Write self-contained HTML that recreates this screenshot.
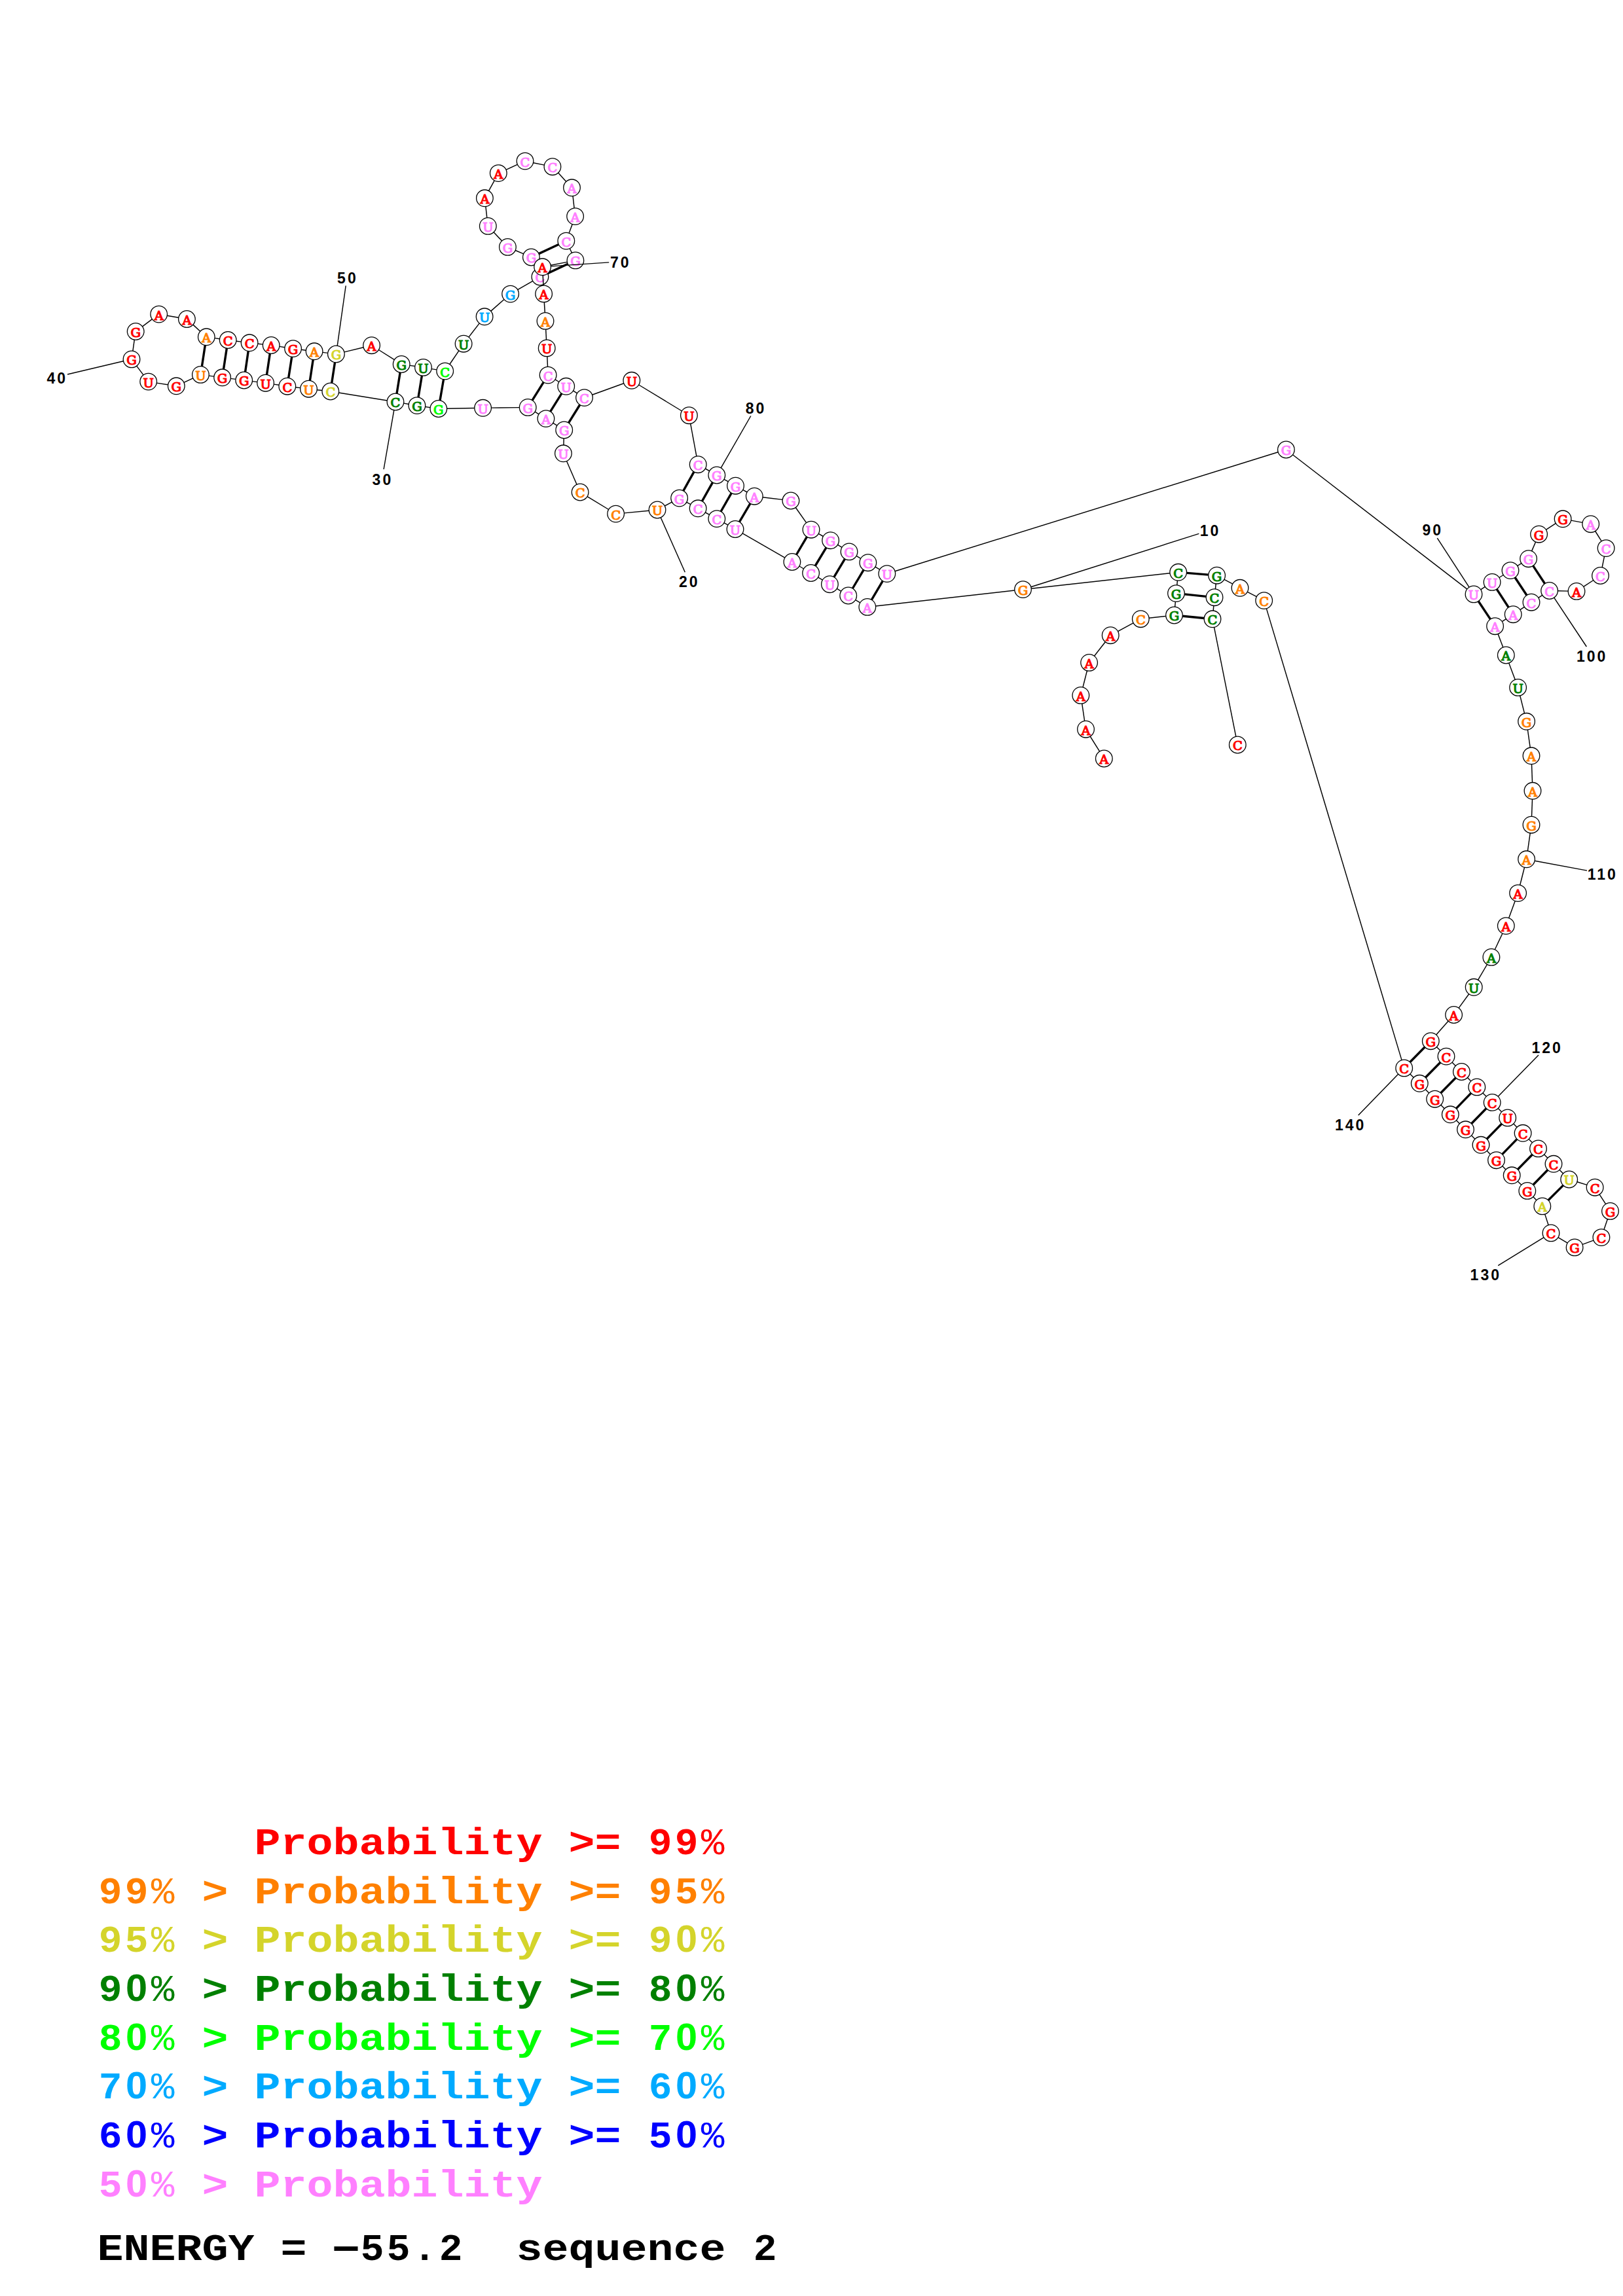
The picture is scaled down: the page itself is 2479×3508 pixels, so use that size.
<!DOCTYPE html>
<html><head><meta charset="utf-8"><title>RNA structure</title>
<style>
html,body{margin:0;padding:0;background:#fff}
svg{display:block}
svg line{stroke:#000;stroke-linecap:butt}
svg circle{fill:#fff;stroke:#000;stroke-width:1.3}
svg text{font-family:"Liberation Mono","DejaVu Sans Mono",monospace;font-weight:bold;white-space:pre}
.n{font-family:"DejaVu Serif","Liberation Serif",serif;font-weight:normal;stroke-width:1.2;font-size:19.4px;text-anchor:middle}
.l{font-family:"Liberation Sans","DejaVu Sans",sans-serif;letter-spacing:3.0px;font-size:23.0px;text-anchor:middle;fill:#000}
.g{font-size:57.2px}
.z{font-family:"Liberation Sans","DejaVu Sans",sans-serif}
.p{font-weight:normal}
</style></head><body>
<svg width="2479" height="3508" viewBox="0 0 2479 3508">
<rect width="2479" height="3508" fill="#fff"/>
<circle cx="1686.3" cy="1159.0" r="12.8"/>
<text class="n" fill="#ff0000" stroke="#ff0000" transform="translate(1686.3,1167.4) scale(1.0,1)">A</text>
<line x1="1679.6" y1="1148.1" x2="1665.2" y2="1125.1" stroke-width="1.45"/>
<circle cx="1658.5" cy="1114.2" r="12.8"/>
<text class="n" fill="#ff0000" stroke="#ff0000" transform="translate(1658.5,1122.6) scale(1.0,1)">A</text>
<line x1="1656.6" y1="1101.5" x2="1652.7" y2="1075.1" stroke-width="1.45"/>
<circle cx="1650.8" cy="1062.4" r="12.8"/>
<text class="n" fill="#ff0000" stroke="#ff0000" transform="translate(1650.8,1070.8) scale(1.0,1)">A</text>
<line x1="1654.0" y1="1050.0" x2="1660.4" y2="1024.8" stroke-width="1.45"/>
<circle cx="1663.6" cy="1012.4" r="12.8"/>
<text class="n" fill="#ff0000" stroke="#ff0000" transform="translate(1663.6,1020.8) scale(1.0,1)">A</text>
<line x1="1671.5" y1="1002.3" x2="1688.3" y2="980.8" stroke-width="1.45"/>
<circle cx="1696.2" cy="970.7" r="12.8"/>
<text class="n" fill="#ff0000" stroke="#ff0000" transform="translate(1696.2,979.1) scale(1.0,1)">A</text>
<line x1="1707.5" y1="964.6" x2="1731.0" y2="951.8" stroke-width="1.45"/>
<circle cx="1742.3" cy="945.7" r="12.8"/>
<text class="n" fill="#ff8000" stroke="#ff8000" transform="translate(1742.3,954.1) scale(1.0,1)">C</text>
<line x1="1755.0" y1="944.3" x2="1780.8" y2="941.4" stroke-width="1.45"/>
<circle cx="1793.5" cy="940.0" r="12.8"/>
<text class="n" fill="#008000" stroke="#008000" transform="translate(1793.5,948.4) scale(1.0,1)">G</text>
<line x1="1794.6" y1="927.3" x2="1795.4" y2="919.3" stroke-width="1.45"/>
<circle cx="1796.5" cy="906.6" r="12.8"/>
<text class="n" fill="#008000" stroke="#008000" transform="translate(1796.5,915.0) scale(1.0,1)">G</text>
<line x1="1797.8" y1="893.9" x2="1798.4" y2="887.0" stroke-width="1.45"/>
<circle cx="1799.7" cy="874.3" r="12.8"/>
<text class="n" fill="#008000" stroke="#008000" transform="translate(1799.7,882.7) scale(1.0,1)">C</text>
<line x1="1787.0" y1="875.7" x2="1575.2" y2="899.2" stroke-width="1.45"/>
<circle cx="1562.5" cy="900.6" r="12.8"/>
<text class="n" fill="#ff8000" stroke="#ff8000" transform="translate(1562.5,909.0) scale(1.0,1)">G</text>
<line x1="1549.8" y1="902.0" x2="1337.5" y2="926.0" stroke-width="1.45"/>
<circle cx="1324.8" cy="927.4" r="12.8"/>
<text class="n" fill="#ff80ff" stroke="#ff80ff" transform="translate(1324.8,935.8) scale(1.0,1)">A</text>
<line x1="1313.8" y1="920.8" x2="1306.7" y2="916.6" stroke-width="1.45"/>
<circle cx="1295.7" cy="910.0" r="12.8"/>
<text class="n" fill="#ff80ff" stroke="#ff80ff" transform="translate(1295.7,918.4) scale(1.0,1)">C</text>
<line x1="1284.8" y1="903.3" x2="1278.3" y2="899.4" stroke-width="1.45"/>
<circle cx="1267.4" cy="892.7" r="12.8"/>
<text class="n" fill="#ff80ff" stroke="#ff80ff" transform="translate(1267.4,901.1) scale(1.0,1)">U</text>
<line x1="1256.4" y1="886.1" x2="1249.6" y2="882.1" stroke-width="1.45"/>
<circle cx="1238.6" cy="875.5" r="12.8"/>
<text class="n" fill="#ff80ff" stroke="#ff80ff" transform="translate(1238.6,883.9) scale(1.0,1)">C</text>
<line x1="1227.6" y1="869.0" x2="1220.9" y2="865.0" stroke-width="1.45"/>
<circle cx="1209.9" cy="858.5" r="12.8"/>
<text class="n" fill="#ff80ff" stroke="#ff80ff" transform="translate(1209.9,866.9) scale(1.0,1)">A</text>
<line x1="1198.8" y1="852.1" x2="1134.1" y2="814.9" stroke-width="1.45"/>
<circle cx="1123.0" cy="808.5" r="12.8"/>
<text class="n" fill="#ff80ff" stroke="#ff80ff" transform="translate(1123.0,816.9) scale(1.0,1)">U</text>
<line x1="1111.9" y1="802.2" x2="1105.9" y2="798.9" stroke-width="1.45"/>
<circle cx="1094.8" cy="792.6" r="12.8"/>
<text class="n" fill="#ff80ff" stroke="#ff80ff" transform="translate(1094.8,801.0) scale(1.0,1)">C</text>
<line x1="1083.6" y1="786.4" x2="1077.3" y2="783.0" stroke-width="1.45"/>
<circle cx="1066.1" cy="776.8" r="12.8"/>
<text class="n" fill="#ff80ff" stroke="#ff80ff" transform="translate(1066.1,785.2) scale(1.0,1)">C</text>
<line x1="1054.9" y1="770.6" x2="1048.8" y2="767.3" stroke-width="1.45"/>
<circle cx="1037.6" cy="761.1" r="12.8"/>
<text class="n" fill="#ff80ff" stroke="#ff80ff" transform="translate(1037.6,769.5) scale(1.0,1)">G</text>
<line x1="1026.3" y1="767.1" x2="1015.3" y2="773.0" stroke-width="1.45"/>
<circle cx="1004.0" cy="779.0" r="12.8"/>
<text class="n" fill="#ff8000" stroke="#ff8000" transform="translate(1004.0,787.4) scale(1.0,1)">U</text>
<line x1="991.3" y1="780.2" x2="953.3" y2="783.9" stroke-width="1.45"/>
<circle cx="940.6" cy="785.1" r="12.8"/>
<text class="n" fill="#ff8000" stroke="#ff8000" transform="translate(940.6,793.5) scale(1.0,1)">C</text>
<line x1="929.7" y1="778.5" x2="897.0" y2="758.6" stroke-width="1.45"/>
<circle cx="886.1" cy="752.0" r="12.8"/>
<text class="n" fill="#ff8000" stroke="#ff8000" transform="translate(886.1,760.4) scale(1.0,1)">C</text>
<line x1="881.0" y1="740.3" x2="865.5" y2="704.5" stroke-width="1.45"/>
<circle cx="860.4" cy="692.8" r="12.8"/>
<text class="n" fill="#ff80ff" stroke="#ff80ff" transform="translate(860.4,701.2) scale(1.0,1)">U</text>
<line x1="860.9" y1="680.0" x2="861.2" y2="669.8" stroke-width="1.45"/>
<circle cx="861.7" cy="657.0" r="12.8"/>
<text class="n" fill="#ff80ff" stroke="#ff80ff" transform="translate(861.7,665.4) scale(1.0,1)">G</text>
<line x1="850.9" y1="650.2" x2="844.7" y2="646.4" stroke-width="1.45"/>
<circle cx="833.9" cy="639.6" r="12.8"/>
<text class="n" fill="#ff80ff" stroke="#ff80ff" transform="translate(833.9,648.0) scale(1.0,1)">A</text>
<line x1="823.0" y1="632.8" x2="817.1" y2="629.2" stroke-width="1.45"/>
<circle cx="806.2" cy="622.4" r="12.8"/>
<text class="n" fill="#ff80ff" stroke="#ff80ff" transform="translate(806.2,630.8) scale(1.0,1)">G</text>
<line x1="793.4" y1="622.6" x2="750.4" y2="623.1" stroke-width="1.45"/>
<circle cx="737.6" cy="623.3" r="12.8"/>
<text class="n" fill="#ff80ff" stroke="#ff80ff" transform="translate(737.6,631.7) scale(1.0,1)">U</text>
<line x1="724.8" y1="623.5" x2="682.6" y2="624.3" stroke-width="1.45"/>
<circle cx="669.8" cy="624.5" r="12.8"/>
<text class="n" fill="#00ff00" stroke="#00ff00" transform="translate(669.8,632.9) scale(1.0,1)">G</text>
<line x1="657.1" y1="622.6" x2="649.6" y2="621.5" stroke-width="1.45"/>
<circle cx="636.9" cy="619.6" r="12.8"/>
<text class="n" fill="#008000" stroke="#008000" transform="translate(636.9,628.0) scale(1.0,1)">G</text>
<line x1="624.3" y1="617.5" x2="616.6" y2="616.1" stroke-width="1.45"/>
<circle cx="604.0" cy="614.0" r="12.8"/>
<text class="n" fill="#008000" stroke="#008000" transform="translate(604.0,622.4) scale(1.0,1)">C</text>
<line x1="591.4" y1="612.0" x2="517.4" y2="600.0" stroke-width="1.45"/>
<circle cx="504.8" cy="598.0" r="12.8"/>
<text class="n" fill="#d4d42b" stroke="#d4d42b" transform="translate(504.8,606.4) scale(1.0,1)">C</text>
<line x1="492.1" y1="596.5" x2="484.2" y2="595.7" stroke-width="1.45"/>
<circle cx="471.5" cy="594.2" r="12.8"/>
<text class="n" fill="#ff8000" stroke="#ff8000" transform="translate(471.5,602.6) scale(1.0,1)">U</text>
<line x1="458.8" y1="592.6" x2="451.5" y2="591.8" stroke-width="1.45"/>
<circle cx="438.8" cy="590.2" r="12.8"/>
<text class="n" fill="#ff0000" stroke="#ff0000" transform="translate(438.8,598.6) scale(1.0,1)">C</text>
<line x1="426.1" y1="588.3" x2="418.3" y2="587.1" stroke-width="1.45"/>
<circle cx="405.6" cy="585.2" r="12.8"/>
<text class="n" fill="#ff0000" stroke="#ff0000" transform="translate(405.6,593.6) scale(1.0,1)">U</text>
<line x1="392.9" y1="583.6" x2="385.4" y2="582.6" stroke-width="1.45"/>
<circle cx="372.7" cy="581.0" r="12.8"/>
<text class="n" fill="#ff0000" stroke="#ff0000" transform="translate(372.7,589.4) scale(1.0,1)">G</text>
<line x1="360.0" y1="579.4" x2="352.3" y2="578.4" stroke-width="1.45"/>
<circle cx="339.6" cy="576.8" r="12.8"/>
<text class="n" fill="#ff0000" stroke="#ff0000" transform="translate(339.6,585.2) scale(1.0,1)">G</text>
<line x1="326.9" y1="575.1" x2="319.1" y2="574.1" stroke-width="1.45"/>
<circle cx="306.4" cy="572.4" r="12.8"/>
<text class="n" fill="#ff8000" stroke="#ff8000" transform="translate(306.4,580.8) scale(1.0,1)">U</text>
<line x1="294.8" y1="577.8" x2="280.9" y2="584.4" stroke-width="1.45"/>
<circle cx="269.3" cy="589.8" r="12.8"/>
<text class="n" fill="#ff0000" stroke="#ff0000" transform="translate(269.3,598.2) scale(1.0,1)">G</text>
<line x1="256.7" y1="587.8" x2="239.3" y2="585.1" stroke-width="1.45"/>
<circle cx="226.7" cy="583.1" r="12.8"/>
<text class="n" fill="#ff0000" stroke="#ff0000" transform="translate(226.7,591.5) scale(1.0,1)">U</text>
<line x1="219.0" y1="572.9" x2="208.7" y2="559.1" stroke-width="1.45"/>
<circle cx="201.0" cy="548.9" r="12.8"/>
<text class="n" fill="#ff0000" stroke="#ff0000" transform="translate(201.0,557.3) scale(1.0,1)">G</text>
<line x1="202.9" y1="536.2" x2="205.3" y2="519.2" stroke-width="1.45"/>
<circle cx="207.2" cy="506.5" r="12.8"/>
<text class="n" fill="#ff0000" stroke="#ff0000" transform="translate(207.2,514.9) scale(1.0,1)">G</text>
<line x1="217.5" y1="498.9" x2="232.4" y2="487.7" stroke-width="1.45"/>
<circle cx="242.7" cy="480.1" r="12.8"/>
<text class="n" fill="#ff0000" stroke="#ff0000" transform="translate(242.7,488.5) scale(1.0,1)">A</text>
<line x1="255.3" y1="482.3" x2="272.8" y2="485.3" stroke-width="1.45"/>
<circle cx="285.4" cy="487.5" r="12.8"/>
<text class="n" fill="#ff0000" stroke="#ff0000" transform="translate(285.4,495.9) scale(1.0,1)">A</text>
<line x1="294.9" y1="496.1" x2="305.8" y2="506.2" stroke-width="1.45"/>
<line x1="308.4" y1="559.8" x2="313.3" y2="527.4" stroke-width="3.4"/>
<circle cx="315.3" cy="514.8" r="12.8"/>
<text class="n" fill="#ff8000" stroke="#ff8000" transform="translate(315.3,523.2) scale(1.0,1)">A</text>
<line x1="328.0" y1="516.6" x2="335.5" y2="517.7" stroke-width="1.45"/>
<line x1="341.5" y1="564.1" x2="346.3" y2="532.2" stroke-width="3.4"/>
<circle cx="348.2" cy="519.5" r="12.8"/>
<text class="n" fill="#ff0000" stroke="#ff0000" transform="translate(348.2,527.9) scale(1.0,1)">C</text>
<line x1="360.9" y1="521.2" x2="368.4" y2="522.1" stroke-width="1.45"/>
<line x1="374.6" y1="568.3" x2="379.2" y2="536.5" stroke-width="3.4"/>
<circle cx="381.1" cy="523.8" r="12.8"/>
<text class="n" fill="#ff0000" stroke="#ff0000" transform="translate(381.1,532.2) scale(1.0,1)">C</text>
<line x1="393.8" y1="525.2" x2="401.5" y2="526.1" stroke-width="1.45"/>
<line x1="407.5" y1="572.5" x2="412.3" y2="540.2" stroke-width="3.4"/>
<circle cx="414.2" cy="527.5" r="12.8"/>
<text class="n" fill="#ff0000" stroke="#ff0000" transform="translate(414.2,535.9) scale(1.0,1)">A</text>
<line x1="426.9" y1="529.4" x2="434.9" y2="530.7" stroke-width="1.45"/>
<line x1="440.7" y1="577.5" x2="445.7" y2="545.3" stroke-width="3.4"/>
<circle cx="447.6" cy="532.6" r="12.8"/>
<text class="n" fill="#ff0000" stroke="#ff0000" transform="translate(447.6,541.0) scale(1.0,1)">G</text>
<line x1="460.3" y1="534.2" x2="467.4" y2="535.2" stroke-width="1.45"/>
<line x1="473.4" y1="581.5" x2="478.2" y2="549.5" stroke-width="3.4"/>
<circle cx="480.1" cy="536.8" r="12.8"/>
<text class="n" fill="#ff8000" stroke="#ff8000" transform="translate(480.1,545.2) scale(1.0,1)">A</text>
<line x1="492.8" y1="538.4" x2="500.7" y2="539.4" stroke-width="1.45"/>
<line x1="506.7" y1="585.3" x2="511.5" y2="553.7" stroke-width="3.4"/>
<circle cx="513.4" cy="541.0" r="12.8"/>
<text class="n" fill="#d4d42b" stroke="#d4d42b" transform="translate(513.4,549.4) scale(1.0,1)">G</text>
<line x1="525.8" y1="537.9" x2="555.2" y2="530.8" stroke-width="1.45"/>
<circle cx="567.6" cy="527.7" r="12.8"/>
<text class="n" fill="#ff0000" stroke="#ff0000" transform="translate(567.6,536.1) scale(1.0,1)">A</text>
<line x1="578.4" y1="534.5" x2="602.4" y2="549.7" stroke-width="1.45"/>
<line x1="606.0" y1="601.4" x2="611.2" y2="569.1" stroke-width="3.4"/>
<circle cx="613.2" cy="556.5" r="12.8"/>
<text class="n" fill="#008000" stroke="#008000" transform="translate(613.2,564.9) scale(1.0,1)">G</text>
<line x1="625.9" y1="558.4" x2="633.8" y2="559.5" stroke-width="1.45"/>
<line x1="639.0" y1="607.0" x2="644.4" y2="574.0" stroke-width="3.4"/>
<circle cx="646.5" cy="561.4" r="12.8"/>
<text class="n" fill="#008000" stroke="#008000" transform="translate(646.5,569.8) scale(1.0,1)">U</text>
<line x1="659.1" y1="563.6" x2="667.1" y2="564.9" stroke-width="1.45"/>
<line x1="672.0" y1="611.9" x2="677.5" y2="579.7" stroke-width="3.4"/>
<circle cx="679.7" cy="567.1" r="12.8"/>
<text class="n" fill="#00ff00" stroke="#00ff00" transform="translate(679.7,575.5) scale(1.0,1)">C</text>
<line x1="686.9" y1="556.5" x2="700.9" y2="535.8" stroke-width="1.45"/>
<circle cx="708.1" cy="525.2" r="12.8"/>
<text class="n" fill="#008000" stroke="#008000" transform="translate(708.1,533.6) scale(1.0,1)">U</text>
<line x1="715.9" y1="515.1" x2="732.3" y2="493.9" stroke-width="1.45"/>
<circle cx="740.1" cy="483.8" r="12.8"/>
<text class="n" fill="#00aaff" stroke="#00aaff" transform="translate(740.1,492.2) scale(1.0,1)">U</text>
<line x1="749.7" y1="475.4" x2="770.0" y2="457.5" stroke-width="1.45"/>
<circle cx="779.6" cy="449.1" r="12.8"/>
<text class="n" fill="#00aaff" stroke="#00aaff" transform="translate(779.6,457.5) scale(1.0,1)">G</text>
<line x1="790.7" y1="442.7" x2="813.8" y2="429.4" stroke-width="1.45"/>
<circle cx="824.9" cy="423.0" r="12.8"/>
<text class="n" fill="#ff80ff" stroke="#ff80ff" transform="translate(824.9,431.4) scale(1.0,1)">C</text>
<line x1="819.6" y1="411.3" x2="816.7" y2="404.7" stroke-width="1.45"/>
<circle cx="811.4" cy="393.0" r="12.8"/>
<text class="n" fill="#ff80ff" stroke="#ff80ff" transform="translate(811.4,401.4) scale(1.0,1)">G</text>
<line x1="799.7" y1="387.9" x2="787.1" y2="382.5" stroke-width="1.45"/>
<circle cx="775.4" cy="377.4" r="12.8"/>
<text class="n" fill="#ff80ff" stroke="#ff80ff" transform="translate(775.4,385.8) scale(1.0,1)">G</text>
<line x1="766.6" y1="368.1" x2="754.1" y2="354.7" stroke-width="1.45"/>
<circle cx="745.3" cy="345.4" r="12.8"/>
<text class="n" fill="#ff80ff" stroke="#ff80ff" transform="translate(745.3,353.8) scale(1.0,1)">U</text>
<line x1="743.8" y1="332.7" x2="741.9" y2="315.5" stroke-width="1.45"/>
<circle cx="740.4" cy="302.8" r="12.8"/>
<text class="n" fill="#ff0000" stroke="#ff0000" transform="translate(740.4,311.2) scale(1.0,1)">A</text>
<line x1="746.5" y1="291.6" x2="755.2" y2="275.8" stroke-width="1.45"/>
<circle cx="761.3" cy="264.6" r="12.8"/>
<text class="n" fill="#ff0000" stroke="#ff0000" transform="translate(761.3,273.0) scale(1.0,1)">A</text>
<line x1="773.0" y1="259.3" x2="790.3" y2="251.4" stroke-width="1.45"/>
<circle cx="802.0" cy="246.1" r="12.8"/>
<text class="n" fill="#ff80ff" stroke="#ff80ff" transform="translate(802.0,254.5) scale(1.0,1)">C</text>
<line x1="814.5" y1="248.7" x2="831.4" y2="252.1" stroke-width="1.45"/>
<circle cx="843.9" cy="254.7" r="12.8"/>
<text class="n" fill="#ff80ff" stroke="#ff80ff" transform="translate(843.9,263.1) scale(1.0,1)">C</text>
<line x1="852.6" y1="264.1" x2="864.8" y2="277.4" stroke-width="1.45"/>
<circle cx="873.5" cy="286.8" r="12.8"/>
<text class="n" fill="#ff80ff" stroke="#ff80ff" transform="translate(873.5,295.2) scale(1.0,1)">A</text>
<line x1="875.0" y1="299.5" x2="877.1" y2="317.9" stroke-width="1.45"/>
<circle cx="878.6" cy="330.6" r="12.8"/>
<text class="n" fill="#ff80ff" stroke="#ff80ff" transform="translate(878.6,339.0) scale(1.0,1)">A</text>
<line x1="874.2" y1="342.6" x2="869.2" y2="356.1" stroke-width="1.45"/>
<line x1="823.0" y1="387.6" x2="853.2" y2="373.5" stroke-width="3.4"/>
<circle cx="864.8" cy="368.1" r="12.8"/>
<text class="n" fill="#ff80ff" stroke="#ff80ff" transform="translate(864.8,376.5) scale(1.0,1)">C</text>
<line x1="870.3" y1="379.7" x2="873.4" y2="386.3" stroke-width="1.45"/>
<line x1="836.5" y1="417.6" x2="867.3" y2="403.3" stroke-width="3.4"/>
<circle cx="878.9" cy="397.9" r="12.8"/>
<text class="n" fill="#ff80ff" stroke="#ff80ff" transform="translate(878.9,406.3) scale(1.0,1)">G</text>
<line x1="866.3" y1="400.4" x2="841.2" y2="405.3" stroke-width="1.45"/>
<circle cx="828.6" cy="407.8" r="12.8"/>
<text class="n" fill="#ff0000" stroke="#ff0000" transform="translate(828.6,416.2) scale(1.0,1)">A</text>
<line x1="829.2" y1="420.6" x2="830.0" y2="436.1" stroke-width="1.45"/>
<circle cx="830.6" cy="448.9" r="12.8"/>
<text class="n" fill="#ff0000" stroke="#ff0000" transform="translate(830.6,457.3) scale(1.0,1)">A</text>
<line x1="831.3" y1="461.7" x2="832.3" y2="477.6" stroke-width="1.45"/>
<circle cx="833.0" cy="490.4" r="12.8"/>
<text class="n" fill="#ff8000" stroke="#ff8000" transform="translate(833.0,498.8) scale(1.0,1)">A</text>
<line x1="833.7" y1="503.2" x2="834.5" y2="519.1" stroke-width="1.45"/>
<circle cx="835.2" cy="531.9" r="12.8"/>
<text class="n" fill="#ff0000" stroke="#ff0000" transform="translate(835.2,540.3) scale(1.0,1)">U</text>
<line x1="835.8" y1="544.7" x2="836.5" y2="560.3" stroke-width="1.45"/>
<line x1="813.0" y1="611.6" x2="830.3" y2="583.9" stroke-width="3.4"/>
<circle cx="837.1" cy="573.1" r="12.8"/>
<text class="n" fill="#ff80ff" stroke="#ff80ff" transform="translate(837.1,581.5) scale(1.0,1)">C</text>
<line x1="848.0" y1="579.9" x2="853.8" y2="583.5" stroke-width="1.45"/>
<line x1="840.7" y1="628.7" x2="857.9" y2="601.2" stroke-width="3.4"/>
<circle cx="864.7" cy="590.3" r="12.8"/>
<text class="n" fill="#ff80ff" stroke="#ff80ff" transform="translate(864.7,598.7) scale(1.0,1)">U</text>
<line x1="875.6" y1="597.1" x2="881.6" y2="600.8" stroke-width="1.45"/>
<line x1="868.5" y1="646.1" x2="885.7" y2="618.5" stroke-width="3.4"/>
<circle cx="892.5" cy="607.6" r="12.8"/>
<text class="n" fill="#ff80ff" stroke="#ff80ff" transform="translate(892.5,616.0) scale(1.0,1)">C</text>
<line x1="904.5" y1="603.2" x2="952.8" y2="585.7" stroke-width="1.45"/>
<circle cx="964.8" cy="581.3" r="12.8"/>
<text class="n" fill="#ff0000" stroke="#ff0000" transform="translate(964.8,589.7) scale(1.0,1)">U</text>
<line x1="975.7" y1="588.0" x2="1041.5" y2="628.0" stroke-width="1.45"/>
<circle cx="1052.4" cy="634.7" r="12.8"/>
<text class="n" fill="#ff0000" stroke="#ff0000" transform="translate(1052.4,643.1) scale(1.0,1)">U</text>
<line x1="1054.7" y1="647.3" x2="1063.9" y2="697.1" stroke-width="1.45"/>
<line x1="1043.8" y1="749.9" x2="1060.0" y2="720.9" stroke-width="3.4"/>
<circle cx="1066.2" cy="709.7" r="12.8"/>
<text class="n" fill="#ff80ff" stroke="#ff80ff" transform="translate(1066.2,718.1) scale(1.0,1)">C</text>
<line x1="1077.3" y1="716.0" x2="1083.7" y2="719.7" stroke-width="1.45"/>
<line x1="1072.4" y1="765.7" x2="1088.5" y2="737.1" stroke-width="3.4"/>
<circle cx="1094.8" cy="726.0" r="12.8"/>
<text class="n" fill="#ff80ff" stroke="#ff80ff" transform="translate(1094.8,734.4) scale(1.0,1)">G</text>
<line x1="1105.9" y1="732.3" x2="1112.4" y2="735.9" stroke-width="1.45"/>
<line x1="1101.1" y1="781.5" x2="1117.2" y2="753.3" stroke-width="3.4"/>
<circle cx="1123.5" cy="742.2" r="12.8"/>
<text class="n" fill="#ff80ff" stroke="#ff80ff" transform="translate(1123.5,750.6) scale(1.0,1)">G</text>
<line x1="1134.7" y1="748.4" x2="1141.1" y2="752.0" stroke-width="1.45"/>
<line x1="1129.4" y1="797.4" x2="1145.9" y2="769.3" stroke-width="3.4"/>
<circle cx="1152.3" cy="758.2" r="12.8"/>
<text class="n" fill="#ff80ff" stroke="#ff80ff" transform="translate(1152.3,766.6) scale(1.0,1)">A</text>
<line x1="1165.0" y1="759.8" x2="1195.2" y2="763.4" stroke-width="1.45"/>
<circle cx="1207.9" cy="765.0" r="12.8"/>
<text class="n" fill="#ff80ff" stroke="#ff80ff" transform="translate(1207.9,773.4) scale(1.0,1)">G</text>
<line x1="1215.3" y1="775.5" x2="1231.6" y2="798.7" stroke-width="1.45"/>
<line x1="1216.4" y1="847.5" x2="1232.5" y2="820.2" stroke-width="3.4"/>
<circle cx="1239.0" cy="809.2" r="12.8"/>
<text class="n" fill="#ff80ff" stroke="#ff80ff" transform="translate(1239.0,817.6) scale(1.0,1)">U</text>
<line x1="1250.2" y1="815.4" x2="1257.4" y2="819.5" stroke-width="1.45"/>
<line x1="1245.2" y1="864.5" x2="1262.0" y2="836.7" stroke-width="3.4"/>
<circle cx="1268.6" cy="825.7" r="12.8"/>
<text class="n" fill="#ff80ff" stroke="#ff80ff" transform="translate(1268.6,834.1) scale(1.0,1)">G</text>
<line x1="1279.5" y1="832.3" x2="1286.1" y2="836.3" stroke-width="1.45"/>
<line x1="1273.9" y1="881.7" x2="1290.5" y2="853.9" stroke-width="3.4"/>
<circle cx="1297.0" cy="842.9" r="12.8"/>
<text class="n" fill="#ff80ff" stroke="#ff80ff" transform="translate(1297.0,851.3) scale(1.0,1)">G</text>
<line x1="1308.1" y1="849.3" x2="1314.7" y2="853.3" stroke-width="1.45"/>
<line x1="1302.3" y1="899.0" x2="1319.2" y2="870.7" stroke-width="3.4"/>
<circle cx="1325.8" cy="859.7" r="12.8"/>
<text class="n" fill="#ff80ff" stroke="#ff80ff" transform="translate(1325.8,868.1) scale(1.0,1)">G</text>
<line x1="1336.9" y1="866.1" x2="1343.7" y2="870.2" stroke-width="1.45"/>
<line x1="1331.3" y1="916.4" x2="1348.3" y2="887.6" stroke-width="3.4"/>
<circle cx="1354.8" cy="876.6" r="12.8"/>
<text class="n" fill="#ff80ff" stroke="#ff80ff" transform="translate(1354.8,885.0) scale(1.0,1)">U</text>
<line x1="1367.0" y1="872.8" x2="1952.2" y2="690.8" stroke-width="1.45"/>
<circle cx="1964.4" cy="687.0" r="12.8"/>
<text class="n" fill="#ff80ff" stroke="#ff80ff" transform="translate(1964.4,695.4) scale(1.0,1)">G</text>
<line x1="1974.5" y1="694.8" x2="2240.9" y2="900.1" stroke-width="1.45"/>
<circle cx="2251.0" cy="907.9" r="12.8"/>
<text class="n" fill="#ff80ff" stroke="#ff80ff" transform="translate(2251.0,916.3) scale(1.0,1)">U</text>
<line x1="2261.7" y1="900.9" x2="2268.4" y2="896.4" stroke-width="1.45"/>
<circle cx="2279.1" cy="889.4" r="12.8"/>
<text class="n" fill="#ff80ff" stroke="#ff80ff" transform="translate(2279.1,897.8) scale(1.0,1)">U</text>
<line x1="2289.9" y1="882.5" x2="2296.2" y2="878.5" stroke-width="1.45"/>
<circle cx="2307.0" cy="871.6" r="12.8"/>
<text class="n" fill="#ff80ff" stroke="#ff80ff" transform="translate(2307.0,880.0) scale(1.0,1)">G</text>
<line x1="2317.7" y1="864.6" x2="2323.9" y2="860.7" stroke-width="1.45"/>
<circle cx="2334.6" cy="853.7" r="12.8"/>
<text class="n" fill="#ff80ff" stroke="#ff80ff" transform="translate(2334.6,862.1) scale(1.0,1)">G</text>
<line x1="2339.6" y1="841.9" x2="2345.6" y2="828.0" stroke-width="1.45"/>
<circle cx="2350.6" cy="816.2" r="12.8"/>
<text class="n" fill="#ff0000" stroke="#ff0000" transform="translate(2350.6,824.6) scale(1.0,1)">G</text>
<line x1="2361.4" y1="809.3" x2="2376.3" y2="799.7" stroke-width="1.45"/>
<circle cx="2387.1" cy="792.8" r="12.8"/>
<text class="n" fill="#ff0000" stroke="#ff0000" transform="translate(2387.1,801.2) scale(1.0,1)">G</text>
<line x1="2399.7" y1="795.1" x2="2417.1" y2="798.4" stroke-width="1.45"/>
<circle cx="2429.7" cy="800.7" r="12.8"/>
<text class="n" fill="#ff80ff" stroke="#ff80ff" transform="translate(2429.7,809.1) scale(1.0,1)">A</text>
<line x1="2436.6" y1="811.5" x2="2446.2" y2="826.8" stroke-width="1.45"/>
<circle cx="2453.1" cy="837.6" r="12.8"/>
<text class="n" fill="#ff80ff" stroke="#ff80ff" transform="translate(2453.1,846.0) scale(1.0,1)">C</text>
<line x1="2450.5" y1="850.1" x2="2447.1" y2="867.0" stroke-width="1.45"/>
<circle cx="2444.5" cy="879.5" r="12.8"/>
<text class="n" fill="#ff80ff" stroke="#ff80ff" transform="translate(2444.5,887.9) scale(1.0,1)">C</text>
<line x1="2433.8" y1="886.5" x2="2418.7" y2="896.4" stroke-width="1.45"/>
<circle cx="2408.0" cy="903.4" r="12.8"/>
<text class="n" fill="#ff0000" stroke="#ff0000" transform="translate(2408.0,911.8) scale(1.0,1)">A</text>
<line x1="2395.2" y1="903.1" x2="2379.4" y2="902.8" stroke-width="1.45"/>
<line x1="2341.6" y1="864.4" x2="2359.6" y2="891.8" stroke-width="3.4"/>
<circle cx="2366.6" cy="902.5" r="12.8"/>
<text class="n" fill="#ff80ff" stroke="#ff80ff" transform="translate(2366.6,910.9) scale(1.0,1)">C</text>
<line x1="2355.8" y1="909.4" x2="2349.8" y2="913.3" stroke-width="1.45"/>
<line x1="2314.0" y1="882.3" x2="2332.0" y2="909.5" stroke-width="3.4"/>
<circle cx="2339.0" cy="920.2" r="12.8"/>
<text class="n" fill="#ff80ff" stroke="#ff80ff" transform="translate(2339.0,928.6) scale(1.0,1)">C</text>
<line x1="2328.3" y1="927.3" x2="2321.9" y2="931.6" stroke-width="1.45"/>
<line x1="2286.1" y1="900.1" x2="2304.2" y2="928.0" stroke-width="3.4"/>
<circle cx="2311.2" cy="938.7" r="12.8"/>
<text class="n" fill="#ff80ff" stroke="#ff80ff" transform="translate(2311.2,947.1) scale(1.0,1)">A</text>
<line x1="2300.5" y1="945.7" x2="2294.3" y2="949.7" stroke-width="1.45"/>
<line x1="2258.1" y1="918.5" x2="2276.5" y2="946.1" stroke-width="3.4"/>
<circle cx="2283.6" cy="956.7" r="12.8"/>
<text class="n" fill="#ff80ff" stroke="#ff80ff" transform="translate(2283.6,965.1) scale(1.0,1)">A</text>
<line x1="2288.1" y1="968.7" x2="2295.8" y2="989.0" stroke-width="1.45"/>
<circle cx="2300.3" cy="1001.0" r="12.8"/>
<text class="n" fill="#008000" stroke="#008000" transform="translate(2300.3,1009.4) scale(1.0,1)">A</text>
<line x1="2304.7" y1="1013.0" x2="2314.2" y2="1038.4" stroke-width="1.45"/>
<circle cx="2318.6" cy="1050.4" r="12.8"/>
<text class="n" fill="#008000" stroke="#008000" transform="translate(2318.6,1058.8) scale(1.0,1)">U</text>
<line x1="2321.7" y1="1062.8" x2="2328.5" y2="1089.9" stroke-width="1.45"/>
<circle cx="2331.6" cy="1102.3" r="12.8"/>
<text class="n" fill="#ff8000" stroke="#ff8000" transform="translate(2331.6,1110.7) scale(1.0,1)">G</text>
<line x1="2333.4" y1="1115.0" x2="2337.2" y2="1142.1" stroke-width="1.45"/>
<circle cx="2339.0" cy="1154.8" r="12.8"/>
<text class="n" fill="#ff8000" stroke="#ff8000" transform="translate(2339.0,1163.2) scale(1.0,1)">A</text>
<line x1="2339.5" y1="1167.6" x2="2340.5" y2="1195.5" stroke-width="1.45"/>
<circle cx="2341.0" cy="1208.3" r="12.8"/>
<text class="n" fill="#ff8000" stroke="#ff8000" transform="translate(2341.0,1216.7) scale(1.0,1)">A</text>
<line x1="2340.5" y1="1221.1" x2="2339.5" y2="1247.4" stroke-width="1.45"/>
<circle cx="2339.0" cy="1260.2" r="12.8"/>
<text class="n" fill="#ff8000" stroke="#ff8000" transform="translate(2339.0,1268.6) scale(1.0,1)">G</text>
<line x1="2337.2" y1="1272.9" x2="2333.4" y2="1300.1" stroke-width="1.45"/>
<circle cx="2331.6" cy="1312.8" r="12.8"/>
<text class="n" fill="#ff8000" stroke="#ff8000" transform="translate(2331.6,1321.2) scale(1.0,1)">A</text>
<line x1="2328.5" y1="1325.2" x2="2321.7" y2="1352.2" stroke-width="1.45"/>
<circle cx="2318.6" cy="1364.6" r="12.8"/>
<text class="n" fill="#ff0000" stroke="#ff0000" transform="translate(2318.6,1373.0) scale(1.0,1)">A</text>
<line x1="2314.2" y1="1376.6" x2="2304.7" y2="1402.6" stroke-width="1.45"/>
<circle cx="2300.3" cy="1414.6" r="12.8"/>
<text class="n" fill="#ff0000" stroke="#ff0000" transform="translate(2300.3,1423.0) scale(1.0,1)">A</text>
<line x1="2294.9" y1="1426.2" x2="2283.3" y2="1450.8" stroke-width="1.45"/>
<circle cx="2277.9" cy="1462.4" r="12.8"/>
<text class="n" fill="#008000" stroke="#008000" transform="translate(2277.9,1470.8) scale(1.0,1)">A</text>
<line x1="2271.5" y1="1473.5" x2="2257.6" y2="1497.2" stroke-width="1.45"/>
<circle cx="2251.2" cy="1508.3" r="12.8"/>
<text class="n" fill="#008000" stroke="#008000" transform="translate(2251.2,1516.7) scale(1.0,1)">U</text>
<line x1="2243.7" y1="1518.7" x2="2228.1" y2="1540.1" stroke-width="1.45"/>
<circle cx="2220.6" cy="1550.5" r="12.8"/>
<text class="n" fill="#ff0000" stroke="#ff0000" transform="translate(2220.6,1558.9) scale(1.0,1)">A</text>
<line x1="2212.2" y1="1560.1" x2="2193.7" y2="1581.1" stroke-width="1.45"/>
<circle cx="2185.3" cy="1590.7" r="12.8"/>
<text class="n" fill="#ff0000" stroke="#ff0000" transform="translate(2185.3,1599.1) scale(1.0,1)">G</text>
<line x1="2194.4" y1="1599.7" x2="2199.9" y2="1605.1" stroke-width="1.45"/>
<circle cx="2209.0" cy="1614.1" r="12.8"/>
<text class="n" fill="#ff0000" stroke="#ff0000" transform="translate(2209.0,1622.5) scale(1.0,1)">C</text>
<line x1="2218.1" y1="1623.2" x2="2223.3" y2="1628.4" stroke-width="1.45"/>
<circle cx="2232.4" cy="1637.5" r="12.8"/>
<text class="n" fill="#ff0000" stroke="#ff0000" transform="translate(2232.4,1645.9) scale(1.0,1)">C</text>
<line x1="2241.5" y1="1646.6" x2="2246.7" y2="1651.8" stroke-width="1.45"/>
<circle cx="2255.8" cy="1660.9" r="12.8"/>
<text class="n" fill="#ff0000" stroke="#ff0000" transform="translate(2255.8,1669.3) scale(1.0,1)">C</text>
<line x1="2264.8" y1="1670.0" x2="2270.2" y2="1675.3" stroke-width="1.45"/>
<circle cx="2279.2" cy="1684.4" r="12.8"/>
<text class="n" fill="#ff0000" stroke="#ff0000" transform="translate(2279.2,1692.8) scale(1.0,1)">C</text>
<line x1="2288.3" y1="1693.5" x2="2293.6" y2="1698.8" stroke-width="1.45"/>
<circle cx="2302.7" cy="1707.9" r="12.8"/>
<text class="n" fill="#ff0000" stroke="#ff0000" transform="translate(2302.7,1716.3) scale(1.0,1)">U</text>
<line x1="2311.8" y1="1717.0" x2="2317.0" y2="1722.2" stroke-width="1.45"/>
<circle cx="2326.1" cy="1731.3" r="12.8"/>
<text class="n" fill="#ff0000" stroke="#ff0000" transform="translate(2326.1,1739.7) scale(1.0,1)">C</text>
<line x1="2335.1" y1="1740.4" x2="2340.5" y2="1745.8" stroke-width="1.45"/>
<circle cx="2349.5" cy="1754.9" r="12.8"/>
<text class="n" fill="#ff0000" stroke="#ff0000" transform="translate(2349.5,1763.3) scale(1.0,1)">C</text>
<line x1="2358.6" y1="1763.9" x2="2363.9" y2="1769.3" stroke-width="1.45"/>
<circle cx="2373.0" cy="1778.3" r="12.8"/>
<text class="n" fill="#ff0000" stroke="#ff0000" transform="translate(2373.0,1786.7) scale(1.0,1)">C</text>
<line x1="2382.1" y1="1787.4" x2="2387.6" y2="1792.9" stroke-width="1.45"/>
<circle cx="2396.7" cy="1802.0" r="12.8"/>
<text class="n" fill="#d4d42b" stroke="#d4d42b" transform="translate(2396.7,1810.4) scale(1.0,1)">U</text>
<line x1="2408.9" y1="1805.8" x2="2423.9" y2="1810.4" stroke-width="1.45"/>
<circle cx="2436.1" cy="1814.2" r="12.8"/>
<text class="n" fill="#ff0000" stroke="#ff0000" transform="translate(2436.1,1822.6) scale(1.0,1)">C</text>
<line x1="2443.0" y1="1824.9" x2="2452.6" y2="1839.7" stroke-width="1.45"/>
<circle cx="2459.5" cy="1850.4" r="12.8"/>
<text class="n" fill="#ff0000" stroke="#ff0000" transform="translate(2459.5,1858.8) scale(1.0,1)">G</text>
<line x1="2455.4" y1="1862.5" x2="2450.0" y2="1878.5" stroke-width="1.45"/>
<circle cx="2445.9" cy="1890.6" r="12.8"/>
<text class="n" fill="#ff0000" stroke="#ff0000" transform="translate(2445.9,1899.0) scale(1.0,1)">C</text>
<line x1="2433.9" y1="1895.1" x2="2417.1" y2="1901.4" stroke-width="1.45"/>
<circle cx="2405.1" cy="1905.9" r="12.8"/>
<text class="n" fill="#ff0000" stroke="#ff0000" transform="translate(2405.1,1914.3) scale(1.0,1)">G</text>
<line x1="2394.2" y1="1899.2" x2="2379.9" y2="1890.6" stroke-width="1.45"/>
<circle cx="2369.0" cy="1883.9" r="12.8"/>
<text class="n" fill="#ff0000" stroke="#ff0000" transform="translate(2369.0,1892.3) scale(1.0,1)">C</text>
<line x1="2365.1" y1="1871.7" x2="2359.7" y2="1855.1" stroke-width="1.45"/>
<line x1="2387.6" y1="1811.1" x2="2364.9" y2="1833.8" stroke-width="3.4"/>
<circle cx="2355.8" cy="1842.9" r="12.8"/>
<text class="n" fill="#d4d42b" stroke="#d4d42b" transform="translate(2355.8,1851.3) scale(1.0,1)">A</text>
<line x1="2346.8" y1="1833.8" x2="2341.8" y2="1828.5" stroke-width="1.45"/>
<line x1="2364.0" y1="1787.5" x2="2341.8" y2="1810.2" stroke-width="3.4"/>
<circle cx="2332.8" cy="1819.4" r="12.8"/>
<text class="n" fill="#ff0000" stroke="#ff0000" transform="translate(2332.8,1827.8) scale(1.0,1)">G</text>
<line x1="2323.7" y1="1810.3" x2="2318.3" y2="1804.9" stroke-width="1.45"/>
<line x1="2340.5" y1="1764.0" x2="2318.2" y2="1786.7" stroke-width="3.4"/>
<circle cx="2309.2" cy="1795.8" r="12.8"/>
<text class="n" fill="#ff0000" stroke="#ff0000" transform="translate(2309.2,1804.2) scale(1.0,1)">G</text>
<line x1="2300.0" y1="1786.9" x2="2294.7" y2="1781.6" stroke-width="1.45"/>
<line x1="2317.1" y1="1740.4" x2="2294.5" y2="1763.6" stroke-width="3.4"/>
<circle cx="2285.5" cy="1772.7" r="12.8"/>
<text class="n" fill="#ff0000" stroke="#ff0000" transform="translate(2285.5,1781.1) scale(1.0,1)">G</text>
<line x1="2276.4" y1="1763.7" x2="2271.1" y2="1758.3" stroke-width="1.45"/>
<line x1="2293.7" y1="1717.0" x2="2271.0" y2="1740.2" stroke-width="3.4"/>
<circle cx="2262.0" cy="1749.3" r="12.8"/>
<text class="n" fill="#ff0000" stroke="#ff0000" transform="translate(2262.0,1757.7) scale(1.0,1)">G</text>
<line x1="2252.9" y1="1740.2" x2="2247.6" y2="1734.9" stroke-width="1.45"/>
<line x1="2270.2" y1="1693.5" x2="2247.5" y2="1716.7" stroke-width="3.4"/>
<circle cx="2238.5" cy="1725.8" r="12.8"/>
<text class="n" fill="#ff0000" stroke="#ff0000" transform="translate(2238.5,1734.2) scale(1.0,1)">G</text>
<line x1="2229.4" y1="1716.8" x2="2224.4" y2="1711.8" stroke-width="1.45"/>
<line x1="2246.9" y1="1670.1" x2="2224.2" y2="1693.6" stroke-width="3.4"/>
<circle cx="2215.3" cy="1702.8" r="12.8"/>
<text class="n" fill="#ff0000" stroke="#ff0000" transform="translate(2215.3,1711.2) scale(1.0,1)">G</text>
<line x1="2206.2" y1="1693.7" x2="2200.8" y2="1688.3" stroke-width="1.45"/>
<line x1="2223.5" y1="1646.7" x2="2200.6" y2="1670.0" stroke-width="3.4"/>
<circle cx="2191.7" cy="1679.2" r="12.8"/>
<text class="n" fill="#ff0000" stroke="#ff0000" transform="translate(2191.7,1687.6) scale(1.0,1)">G</text>
<line x1="2182.7" y1="1670.1" x2="2177.3" y2="1664.4" stroke-width="1.45"/>
<line x1="2200.0" y1="1623.2" x2="2177.3" y2="1646.2" stroke-width="3.4"/>
<circle cx="2168.3" cy="1655.3" r="12.8"/>
<text class="n" fill="#ff0000" stroke="#ff0000" transform="translate(2168.3,1663.7) scale(1.0,1)">G</text>
<line x1="2159.2" y1="1646.3" x2="2153.8" y2="1640.9" stroke-width="1.45"/>
<line x1="2176.3" y1="1599.8" x2="2153.7" y2="1622.8" stroke-width="3.4"/>
<circle cx="2144.7" cy="1631.9" r="12.8"/>
<text class="n" fill="#ff0000" stroke="#ff0000" transform="translate(2144.7,1640.3) scale(1.0,1)">C</text>
<line x1="2141.0" y1="1619.6" x2="1934.4" y2="929.9" stroke-width="1.45"/>
<circle cx="1930.7" cy="917.6" r="12.8"/>
<text class="n" fill="#ff8000" stroke="#ff8000" transform="translate(1930.7,926.0) scale(1.0,1)">C</text>
<line x1="1919.4" y1="911.6" x2="1905.3" y2="904.3" stroke-width="1.45"/>
<circle cx="1894.0" cy="898.3" r="12.8"/>
<text class="n" fill="#ff8000" stroke="#ff8000" transform="translate(1894.0,906.7) scale(1.0,1)">A</text>
<line x1="1882.7" y1="892.2" x2="1869.9" y2="885.3" stroke-width="1.45"/>
<line x1="1812.5" y1="875.4" x2="1845.8" y2="878.1" stroke-width="3.4"/>
<circle cx="1858.6" cy="879.2" r="12.8"/>
<text class="n" fill="#008000" stroke="#008000" transform="translate(1858.6,887.6) scale(1.0,1)">G</text>
<line x1="1857.2" y1="891.9" x2="1856.4" y2="900.0" stroke-width="1.45"/>
<line x1="1809.2" y1="907.9" x2="1842.3" y2="911.4" stroke-width="3.4"/>
<circle cx="1855.0" cy="912.7" r="12.8"/>
<text class="n" fill="#008000" stroke="#008000" transform="translate(1855.0,921.1) scale(1.0,1)">C</text>
<line x1="1853.8" y1="925.4" x2="1853.2" y2="933.1" stroke-width="1.45"/>
<line x1="1806.2" y1="941.3" x2="1839.3" y2="944.5" stroke-width="3.4"/>
<circle cx="1852.0" cy="945.8" r="12.8"/>
<text class="n" fill="#008000" stroke="#008000" transform="translate(1852.0,954.2) scale(1.0,1)">C</text>
<line x1="1854.5" y1="958.4" x2="1887.8" y2="1125.4" stroke-width="1.45"/>
<circle cx="1890.3" cy="1138.0" r="12.8"/>
<text class="n" fill="#ff0000" stroke="#ff0000" transform="translate(1890.3,1146.4) scale(1.0,1)">C</text>
<line x1="1574.7" y1="896.7" x2="1831.3" y2="815.4" stroke-width="1.45"/>
<text class="l" transform="translate(1848.5,819.0) scale(1.0,1)">10</text>
<line x1="1009.2" y1="790.7" x2="1046.3" y2="874.3" stroke-width="1.45"/>
<text class="l" transform="translate(1052.8,896.7) scale(1.0,1)">20</text>
<line x1="601.8" y1="626.6" x2="586.1" y2="717.0" stroke-width="1.45"/>
<text class="l" transform="translate(584.4,740.7) scale(1.0,1)">30</text>
<line x1="188.5" y1="551.8" x2="103.0" y2="572.0" stroke-width="1.45"/>
<text class="l" transform="translate(87.2,586.2) scale(1.0,1)">40</text>
<line x1="515.2" y1="528.3" x2="528.2" y2="436.5" stroke-width="1.45"/>
<text class="l" transform="translate(530.9,432.8) scale(1.0,1)">50</text>
<line x1="841.4" y1="406.9" x2="930.2" y2="400.9" stroke-width="1.45"/>
<text class="l" transform="translate(947.7,409.1) scale(1.0,1)">70</text>
<line x1="1101.2" y1="714.9" x2="1146.8" y2="635.5" stroke-width="1.45"/>
<text class="l" transform="translate(1154.5,632.1) scale(1.0,1)">80</text>
<line x1="2244.0" y1="897.2" x2="2195.3" y2="822.1" stroke-width="1.45"/>
<text class="l" transform="translate(2188.2,817.5) scale(1.0,1)">90</text>
<line x1="2373.7" y1="913.2" x2="2423.3" y2="988.0" stroke-width="1.45"/>
<text class="l" transform="translate(2431.7,1010.5) scale(1.0,1)">100</text>
<line x1="2344.2" y1="1315.2" x2="2424.0" y2="1330.1" stroke-width="1.45"/>
<text class="l" transform="translate(2447.7,1343.7) scale(1.0,1)">110</text>
<line x1="2288.2" y1="1675.3" x2="2350.0" y2="1612.1" stroke-width="1.45"/>
<text class="l" transform="translate(2363.1,1609.2) scale(1.0,1)">120</text>
<line x1="2358.1" y1="1890.6" x2="2288.2" y2="1933.6" stroke-width="1.45"/>
<text class="l" transform="translate(2269.3,1956.4) scale(1.0,1)">130</text>
<line x1="2135.8" y1="1641.1" x2="2074.7" y2="1704.1" stroke-width="1.45"/>
<text class="l" transform="translate(2062.6,1727.1) scale(1.0,1)">140</text>
<text class="g" fill="#ff0000" x="0.00 34.32 68.64 102.96 137.28 171.60 205.92 240.24 274.56 308.88 343.20" transform="translate(388.5,2832.8) scale(1.1655,1)">Probability</text>
<text class="g" fill="#ff0000" x="0.00 34.32" transform="translate(868.5,2832.8) scale(1.1655,1)">&gt;=</text>
<text class="g" fill="#ff0000" x="2.07 40.53 78.99" transform="translate(988.5,2832.8) scale(1.04,1)">99<tspan class="p">%</tspan></text>
<text class="g" fill="#ff8000" x="2.07 40.53 78.99" transform="translate(148.5,2907.5) scale(1.04,1)">99<tspan class="p">%</tspan></text>
<text class="g" fill="#ff8000" x="0.00" transform="translate(308.5,2907.5) scale(1.1655,1)">&gt;</text>
<text class="g" fill="#ff8000" x="0.00 34.32 68.64 102.96 137.28 171.60 205.92 240.24 274.56 308.88 343.20" transform="translate(388.5,2907.5) scale(1.1655,1)">Probability</text>
<text class="g" fill="#ff8000" x="0.00 34.32" transform="translate(868.5,2907.5) scale(1.1655,1)">&gt;=</text>
<text class="g" fill="#ff8000" x="2.07 40.53 78.99" transform="translate(988.5,2907.5) scale(1.04,1)">95<tspan class="p">%</tspan></text>
<text class="g" fill="#d4d42b" x="2.07 40.53 78.99" transform="translate(148.5,2982.2) scale(1.04,1)">95<tspan class="p">%</tspan></text>
<text class="g" fill="#d4d42b" x="0.00" transform="translate(308.5,2982.2) scale(1.1655,1)">&gt;</text>
<text class="g" fill="#d4d42b" x="0.00 34.32 68.64 102.96 137.28 171.60 205.92 240.24 274.56 308.88 343.20" transform="translate(388.5,2982.2) scale(1.1655,1)">Probability</text>
<text class="g" fill="#d4d42b" x="0.00 34.32" transform="translate(868.5,2982.2) scale(1.1655,1)">&gt;=</text>
<text class="g" fill="#d4d42b" x="2.07 41.79 78.99" transform="translate(988.5,2982.2) scale(1.04,1)">9<tspan class="z">0</tspan><tspan class="p">%</tspan></text>
<text class="g" fill="#008000" x="2.07 41.79 78.99" transform="translate(148.5,3056.9) scale(1.04,1)">9<tspan class="z">0</tspan><tspan class="p">%</tspan></text>
<text class="g" fill="#008000" x="0.00" transform="translate(308.5,3056.9) scale(1.1655,1)">&gt;</text>
<text class="g" fill="#008000" x="0.00 34.32 68.64 102.96 137.28 171.60 205.92 240.24 274.56 308.88 343.20" transform="translate(388.5,3056.9) scale(1.1655,1)">Probability</text>
<text class="g" fill="#008000" x="0.00 34.32" transform="translate(868.5,3056.9) scale(1.1655,1)">&gt;=</text>
<text class="g" fill="#008000" x="2.07 41.79 78.99" transform="translate(988.5,3056.9) scale(1.04,1)">8<tspan class="z">0</tspan><tspan class="p">%</tspan></text>
<text class="g" fill="#00ff00" x="2.07 41.79 78.99" transform="translate(148.5,3131.6) scale(1.04,1)">8<tspan class="z">0</tspan><tspan class="p">%</tspan></text>
<text class="g" fill="#00ff00" x="0.00" transform="translate(308.5,3131.6) scale(1.1655,1)">&gt;</text>
<text class="g" fill="#00ff00" x="0.00 34.32 68.64 102.96 137.28 171.60 205.92 240.24 274.56 308.88 343.20" transform="translate(388.5,3131.6) scale(1.1655,1)">Probability</text>
<text class="g" fill="#00ff00" x="0.00 34.32" transform="translate(868.5,3131.6) scale(1.1655,1)">&gt;=</text>
<text class="g" fill="#00ff00" x="2.07 41.79 78.99" transform="translate(988.5,3131.6) scale(1.04,1)">7<tspan class="z">0</tspan><tspan class="p">%</tspan></text>
<text class="g" fill="#00aaff" x="2.07 41.79 78.99" transform="translate(148.5,3206.3) scale(1.04,1)">7<tspan class="z">0</tspan><tspan class="p">%</tspan></text>
<text class="g" fill="#00aaff" x="0.00" transform="translate(308.5,3206.3) scale(1.1655,1)">&gt;</text>
<text class="g" fill="#00aaff" x="0.00 34.32 68.64 102.96 137.28 171.60 205.92 240.24 274.56 308.88 343.20" transform="translate(388.5,3206.3) scale(1.1655,1)">Probability</text>
<text class="g" fill="#00aaff" x="0.00 34.32" transform="translate(868.5,3206.3) scale(1.1655,1)">&gt;=</text>
<text class="g" fill="#00aaff" x="2.07 41.79 78.99" transform="translate(988.5,3206.3) scale(1.04,1)">6<tspan class="z">0</tspan><tspan class="p">%</tspan></text>
<text class="g" fill="#0000ff" x="2.07 41.79 78.99" transform="translate(148.5,3281.0) scale(1.04,1)">6<tspan class="z">0</tspan><tspan class="p">%</tspan></text>
<text class="g" fill="#0000ff" x="0.00" transform="translate(308.5,3281.0) scale(1.1655,1)">&gt;</text>
<text class="g" fill="#0000ff" x="0.00 34.32 68.64 102.96 137.28 171.60 205.92 240.24 274.56 308.88 343.20" transform="translate(388.5,3281.0) scale(1.1655,1)">Probability</text>
<text class="g" fill="#0000ff" x="0.00 34.32" transform="translate(868.5,3281.0) scale(1.1655,1)">&gt;=</text>
<text class="g" fill="#0000ff" x="2.07 41.79 78.99" transform="translate(988.5,3281.0) scale(1.04,1)">5<tspan class="z">0</tspan><tspan class="p">%</tspan></text>
<text class="g" fill="#ff80ff" x="2.07 41.79 78.99" transform="translate(148.5,3355.7) scale(1.04,1)">5<tspan class="z">0</tspan><tspan class="p">%</tspan></text>
<text class="g" fill="#ff80ff" x="0.00" transform="translate(308.5,3355.7) scale(1.1655,1)">&gt;</text>
<text class="g" fill="#ff80ff" x="0.00 34.32 68.64 102.96 137.28 171.60 205.92 240.24 274.56 308.88 343.20" transform="translate(388.5,3355.7) scale(1.1655,1)">Probability</text>
<text class="g" fill="#000" x="0.00 34.32 68.64 102.96 137.28 171.60" transform="translate(148.5,3453.2) scale(1.1655,1)">ENERGY</text>
<text class="g" fill="#000" x="0.00" transform="translate(428.5,3453.2) scale(1.1655,1)">=</text>
<text class="g" fill="#000" x="-17.66 40.53 78.99 117.46 155.92" transform="translate(508.5,3453.2) scale(1.04,1)"><tspan dy="-2" textLength="73.6" lengthAdjust="spacingAndGlyphs">-</tspan><tspan dy="2">55.2</tspan></text>
<text class="g" fill="#000" x="0.00 34.32 68.64 102.96 137.28 171.60 205.92 240.24" transform="translate(788.5,3453.2) scale(1.1655,1)">sequence</text>
<text class="g" fill="#000" x="2.07" transform="translate(1148.5,3453.2) scale(1.04,1)">2</text>
</svg>
</body></html>
